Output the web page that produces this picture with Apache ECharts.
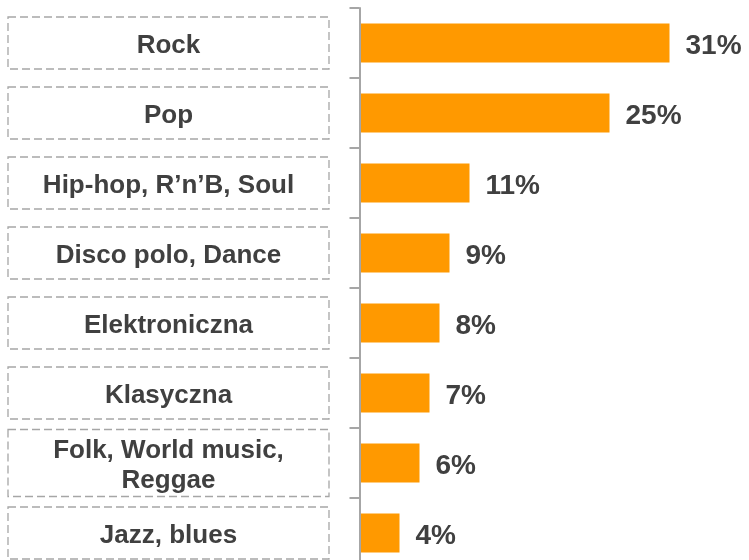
<!DOCTYPE html>
<html>
<head>
<meta charset="utf-8">
<script src="https://cdn.jsdelivr.net/npm/echarts@6/dist/echarts.min.js"></script>
<style>
html,body{margin:0;padding:0;background:#fff;}
#c{width:749px;height:560px;}
</style>
</head>
<body>
<div id="c"></div>
<script>
const categories = ['Rock', 'Pop', 'Hip-hop, R\u2019n\u2019B, Soul', 'Disco polo, Dance', 'Elektroniczna', 'Klasyczna', 'Folk, World music,\nReggae', 'Jazz, blues'];
const values = [31, 25, 11, 9, 8, 7, 6, 4];

const FONT = '"Liberation Sans", Arial, sans-serif';
const TEXT = '#404040';
const GRAY = '#a6a6a6';

const chart = echarts.init(document.getElementById('c'));
chart.setOption({
  animation: false,
  backgroundColor: '#fff',
  grid: { left: 359.5, top: 8, width: 380, height: 560, containLabel: false, outerBoundsMode: 'none' },
  xAxis: { type: 'value', min: 0, max: 38, show: false, splitLine: { show: false } },
  yAxis: {
    type: 'category',
    inverse: true,
    data: categories,
    z: 3,
    axisLine: { show: true, lineStyle: { color: GRAY, width: 2 } },
    axisTick: { show: true, length: 10, lineStyle: { color: GRAY, width: 2 } },
    axisLabel: {
      interval: 0,
      align: 'center',
      margin: 191,
      width: 321,
      overflow: 'none',
      padding: [6, 0, 0, 0],
      borderColor: GRAY,
      borderWidth: 1.3,
      borderType: [8, 4],
      formatter: function (v) {
        const lines = v.split('\n');
        const s = lines.length > 1 ? 'b' : 'a';
        return lines.map(function (l) { return '{' + s + '|' + l + '}'; }).join('\n');
      },
      rich: {
        a: { fontFamily: FONT, fontWeight: 'bold', fontSize: 26, color: TEXT, lineHeight: 46, align: 'center' },
        b: { fontFamily: FONT, fontWeight: 'bold', fontSize: 26, color: TEXT, lineHeight: 30.5, align: 'center' }
      }
    }
  },
  series: [{
    type: 'bar',
    data: values,
    barWidth: 39,
    itemStyle: { color: '#FF9900' },
    label: {
      show: true,
      position: 'right',
      distance: 16,
      offset: [0, 3.5],
      formatter: '{c}%',
      fontFamily: FONT,
      fontWeight: 'bold',
      fontSize: 28,
      color: TEXT
    }
  }]
});
</script>
</body>
</html>
